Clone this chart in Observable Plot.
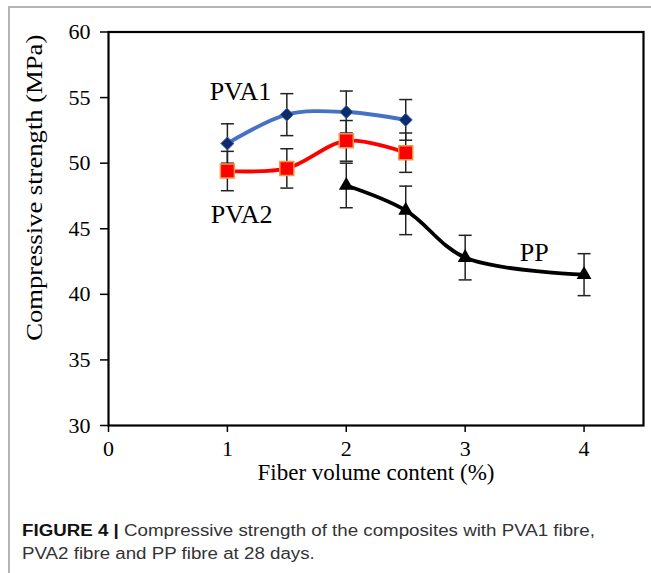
<!DOCTYPE html>
<html>
<head>
<meta charset="utf-8">
<script src="https://cdn.jsdelivr.net/npm/d3@7"></script>
<script src="https://cdn.jsdelivr.net/npm/@observablehq/plot@0.6"></script>
<style>
  html, body { margin: 0; padding: 0; background: #fff; }
  #wrap { position: relative; width: 651px; height: 573px; overflow: hidden; }
  #border { position: absolute; left: 8px; top: 6px; right: -10px; bottom: -10px;
            border-left: 2px solid #b4b4b4; border-top: 2px solid #b4b4b4; }
  #chart { position: absolute; left: 0; top: 0; }
  #caption { position: absolute; left: 22px; top: 520px; width: 540px; white-space: nowrap;
             font-family: "Liberation Sans", Arial, sans-serif; font-size: 16px;
             line-height: 22.5px; color: #333; transform: scaleX(1.17); transform-origin: 0 0; }
  #caption b { color: #111; }
</style>
</head>
<body>
<div id="wrap">
  <div id="border"></div>
  <div id="chart"></div>
  <div id="caption"><b>FIGURE 4 |</b> Compressive strength of the composites with PVA1 fibre,<br>PVA2 fibre and PP fibre at 28 days.</div>
</div>
<script>
// ---- data ----
const fiberPVA1 = [1, 1.5, 2, 2.5];
const strengthPVA1 = [51.5, 53.7, 53.9, 53.3];
const errPVA1 = [1.5, 1.6, 1.6, 1.55];

const fiberPVA2 = [1, 1.5, 2, 2.5];
const strengthPVA2 = [49.4, 49.6, 51.7, 50.8];
const errPVA2 = [1.5, 1.5, 1.55, 1.5];

const fiberPP = [2, 2.5, 3, 4];
const strengthPP = [48.3, 46.4, 42.8, 41.5];
const errPP = [1.7, 1.85, 1.7, 1.6];

const xTicks = [0, 1, 2, 3, 4];
const yTicks = [30, 35, 40, 45, 50, 55, 60];

const seriesNames = ["PVA1", "PVA2", "PP"];
const labelX = [1.11, 1.12, 3.58];
const labelY = [55.45, 46.1, 43.2];

const xTitle = "Fiber volume content (%)";
const yTitle = "Compressive strength (MPa)";

// ---- build tables ----
function table(series, xs, ys, es) {
  return xs.map((x, i) => ({series, x, y: ys[i], lo: ys[i] - es[i], hi: ys[i] + es[i]}));
}
const pva1 = table("PVA1", fiberPVA1, strengthPVA1, errPVA1);
const pva2 = table("PVA2", fiberPVA2, strengthPVA2, errPVA2);
const pp = table("PP", fiberPP, strengthPP, errPP);
const all = [...pva1, ...pva2, ...pp];
const labels = seriesNames.map((name, i) => ({name, x: labelX[i], y: labelY[i]}));

const capSymbol = {
  draw(context, size) {
    const r = Math.sqrt(size / Math.PI);
    context.moveTo(-r, 0);
    context.lineTo(r, 0);
  }
};

const serif = "'Liberation Serif', 'Times New Roman', serif";

const chart = Plot.plot({
  width: 651,
  height: 490,
  marginLeft: 108,
  marginRight: 8,
  marginTop: 31.5,
  marginBottom: 65,
  style: {fontFamily: serif, fontSize: "22px", color: "#000", background: "transparent", overflow: "visible"},
  x: {domain: [0, 4.5]},
  y: {domain: [30, 60]},
  marks: [
    Plot.axisY({ticks: yTicks, tickSize: 8, tickPadding: 10, label: null, strokeWidth: 1.5, fontSize: 22, tickFormat: d3.format("d")}),
    Plot.axisX({ticks: xTicks, tickSize: 7, tickPadding: 8, label: null, strokeWidth: 1.5, fontSize: 22, tickFormat: d3.format("d")}),
    Plot.frame({stroke: "#000", strokeWidth: 2.2}),
    // error bars
    Plot.ruleX(all, {x: "x", y1: "lo", y2: "hi", stroke: "#222", strokeWidth: 1.5}),
    Plot.dot(all, {x: "x", y: "lo", symbol: capSymbol, r: 6.5, stroke: "#222", strokeWidth: 1.5}),
    Plot.dot(all, {x: "x", y: "hi", symbol: capSymbol, r: 6.5, stroke: "#222", strokeWidth: 1.5}),
    // lines
    Plot.line(pva1, {x: "x", y: "y", curve: "catmull-rom", stroke: "#4472C4", strokeWidth: 3.8}),
    Plot.line(pva2, {x: "x", y: "y", curve: "catmull-rom", stroke: "#FF0000", strokeWidth: 3.8}),
    Plot.line(pp, {x: "x", y: "y", curve: "catmull-rom", stroke: "#000000", strokeWidth: 3.8}),
    // markers
    Plot.dot(pva1, {x: "x", y: "y", symbol: "diamond2", r: 5.9, fill: "#0d2a6b", stroke: "#3c66b8", strokeWidth: 1}),
    Plot.dot(pva2, {x: "x", y: "y", symbol: "square", r: 7.9, fill: "#FF0000", stroke: "#F79646", strokeWidth: 1.5}),
    Plot.dot(pp, {x: "x", y: "y", symbol: "triangle", r: 5.5, fill: "#000"}),
    // series labels
    Plot.text(labels, {x: "x", y: "y", text: "name", fontSize: 26, fill: "#000"}),
    // axis titles
    Plot.text([xTitle], {frameAnchor: "bottom", textAnchor: "middle", lineAnchor: "middle", dy: 47, fontSize: 23, fill: "#000"}),
    Plot.text([yTitle], {frameAnchor: "left", textAnchor: "middle", lineAnchor: "middle", dx: -74, dy: -41, rotate: -90, fontSize: 23, fill: "#000"})
  ]
});
// the reference's vertical title is slightly elongated; stretch it to the same length
d3.select(chart).selectAll("text").filter(function () { return this.textContent === yTitle; })
  .attr("textLength", 306).attr("lengthAdjust", "spacingAndGlyphs");
document.getElementById("chart").appendChild(chart);
</script>
</body>
</html>
